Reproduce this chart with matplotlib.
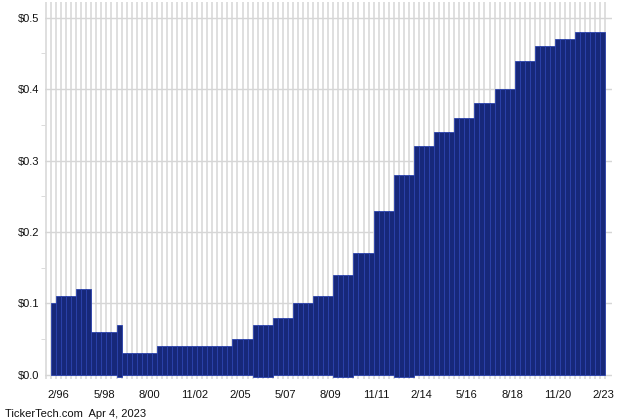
import numpy as np
import matplotlib.pyplot as plt

plt.rcParams['font.family'] = ['Liberation Sans', 'DejaVu Sans']

# quarterly dividend per share, one bar per payment, 11/95 .. 2/23
steps = [0.10, 0.11, 0.12, 0.06, 0.07, 0.03, 0.04, 0.05, 0.07, 0.08, 0.10, 0.11,
         0.14, 0.17, 0.23, 0.28, 0.32, 0.34, 0.36, 0.38, 0.40, 0.44, 0.46, 0.47, 0.48]
counts = [1, 4, 3, 5, 1, 7, 15, 4, 4, 4, 4, 4,
          4, 4, 4, 4, 4, 4, 4, 4, 4, 4, 4, 4, 6]
dividends = np.repeat(steps, counts)

# bars drawn with a small dip below the baseline in the original
dipped = [13, 40, 41, 42, 43, 56, 57, 58, 59, 68, 69, 70, 71]

tick_labels = ['2/96', '5/98', '8/00', '11/02', '2/05', '5/07', '8/09',
               '11/11', '2/14', '5/16', '8/18', '11/20', '2/23']
tick_pos = [1 + 9 * i for i in range(len(tick_labels))]

fig = plt.figure(figsize=(6.4, 4.2), dpi=100)
ax = fig.add_axes([45 / 640, 1 - 378.5 / 420, 567 / 640, 376.5 / 420])

n = len(dividends)
x = np.arange(n)

# vertical grid at every bar boundary
for b in np.arange(-1.5, n, 1.0):
    ax.axvline(b, color='#d6d6d6', lw=1.1, zorder=0)
for v in [0.1, 0.2, 0.3, 0.4, 0.5]:
    ax.axhline(v, color='#d6d6d6', lw=1.0, zorder=0)
ax.axhline(0, color='#d6d6d6', lw=1.0, zorder=0)

bottoms = np.zeros(n)
bottoms[dipped] = -0.0035
ax.bar(x, dividends - bottoms, bottom=bottoms, width=1.0, color='#17287a',
       edgecolor='#2b42ad', linewidth=0.6, zorder=2)

ax.set_xlim(-1.69, 110.8)
ax.set_ylim(-0.005, 0.522)

ax.set_xticks(tick_pos)
ax.set_xticklabels(tick_labels, fontsize=8, color='#111111')
ax.set_yticks([0.0, 0.1, 0.2, 0.3, 0.4, 0.5])
ax.set_yticklabels(['$0.0', '$0.1', '$0.2', '$0.3', '$0.4', '$0.5'],
                   fontsize=8, color='#111111')
ax.set_yticks([0.05, 0.15, 0.25, 0.35, 0.45], minor=True)
ax.tick_params(axis='x', length=0, pad=8)
ax.tick_params(axis='y', which='major', length=0, pad=4)
ax.tick_params(axis='y', which='minor', length=3, color='#d6d6d6')
for s in ax.spines.values():
    s.set_visible(False)

fig.text(5 / 640, 1 - 414 / 420, 'TickerTech.com  Apr 4, 2023', fontsize=8,
         color='#111111', va='center', ha='left')

fig.savefig('out.png', dpi=100)
